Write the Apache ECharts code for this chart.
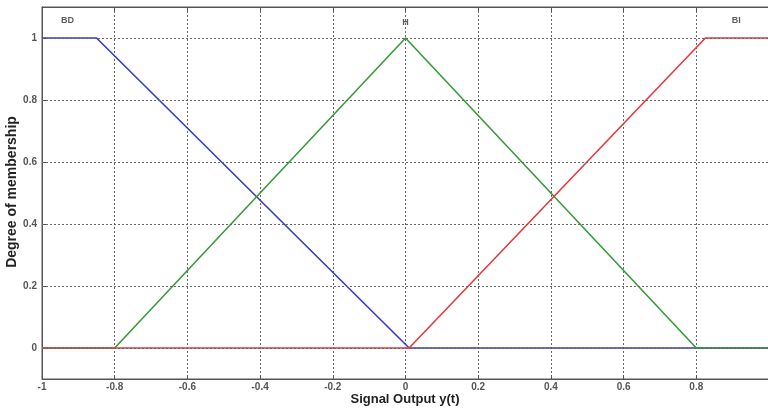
<!DOCTYPE html>
<html><head><meta charset="utf-8">
<script src="https://cdn.jsdelivr.net/npm/echarts@6/dist/echarts.min.js"></script>
<style>html,body{margin:0;padding:0;background:#fff}#c{width:768px;height:411px}</style>
</head><body><div id="c"></div>
<script>
const yTicks = [0, 0.2, 0.4, 0.6, 0.8, 1];
const bdPoints = [[-1, 1], [-0.85, 1], [0.01, 0], [1, 0]];
const hPoints = [[-1, 0], [-0.8, 0], [0, 1], [0.8, 0], [1, 0]];
const biPoints = [[-1, 0], [0.01, 0], [0.825, 1], [1, 1]];
const setNames = ['BD', 'H', 'BI'];
const labelPos = [[-0.93, 1.055], [0, 1.05], [0.91, 1.055]];
const xTitle = 'Signal Output y(t)';
const yTitle = 'Degree of membership';

const chart = echarts.init(document.getElementById('c'));
const font = 'Liberation Sans';
chart.setOption({
  animation: false,
  grid: {left: 42, right: -1, top: 7, bottom: 32, show: true, borderColor: '#555', borderWidth: 1,
         containLabel: false, outerBoundsMode: 'none'},
  graphic: [
    {type: 'text', x: 405, y: 393, style: {text: xTitle, fill: '#222', font: 'bold 13px "Liberation Sans"', align: 'center'}},
    {type: 'text', x: 5, y: 192, rotation: Math.PI / 2,
     style: {text: yTitle, fill: '#222', font: 'bold 14px "Liberation Sans"', align: 'center', verticalAlign: 'top'}}
  ],
  xAxis: [{
    type: 'value', min: -1, max: 1, interval: 0.2,
    axisLine: {onZero: false, lineStyle: {color: '#555'}},
    axisTick: {inside: true, length: 4, lineStyle: {color: '#555'}},
    axisLabel: {color: '#555', fontFamily: font, fontWeight: 'bold', fontSize: 10, margin: 3, showMaxLabel: false,
      formatter: v => (Math.round(v * 10) / 10).toString()},
    splitLine: {show: true, lineStyle: {color: '#666', type: [2, 2], width: 1}}
  }, {
    type: 'value', min: -1, max: 1, interval: 0.2, position: 'top',
    axisLine: {show: true, onZero: false, lineStyle: {color: '#555'}},
    axisTick: {inside: true, length: 4, lineStyle: {color: '#555'}},
    axisLabel: {show: false}, splitLine: {show: false}
  }],
  yAxis: {
    type: 'value', min: -0.1, max: 1.1,
    axisLine: {show: true, onZero: false, lineStyle: {color: '#555'}},
    axisTick: {show: true, inside: true, length: 4, customValues: yTicks, lineStyle: {color: '#555'}},
    axisLabel: {customValues: yTicks, color: '#555', fontFamily: font, fontWeight: 'bold', fontSize: 10, margin: 5},
    splitLine: {show: false}
  },
  series: [
    {type: 'line', data: [], symbol: 'none', silent: true,
     markLine: {silent: true, symbol: 'none', label: {show: false},
       lineStyle: {color: '#666', type: [2, 2], width: 1},
       data: yTicks.map(v => ({yAxis: v}))}},
    {name: 'BD', type: 'line', data: bdPoints, symbol: 'none', lineStyle: {color: '#3a3ac8', width: 1.6}},
    {name: 'H', type: 'line', data: hPoints, symbol: 'none', lineStyle: {color: '#3a9a3a', width: 1.6}},
    {name: 'BI', type: 'line', data: biPoints, symbol: 'none', lineStyle: {color: '#e8383c', width: 1.6}},
    {type: 'scatter', symbolSize: 0, silent: true,
     data: labelPos.map((p, i) => ({value: p, name: setNames[i]})),
     label: {show: true, position: 'inside', formatter: p => p.name, color: '#333',
       fontFamily: font, fontWeight: 'bold', fontSize: 9}}
  ]
});
</script></body></html>
